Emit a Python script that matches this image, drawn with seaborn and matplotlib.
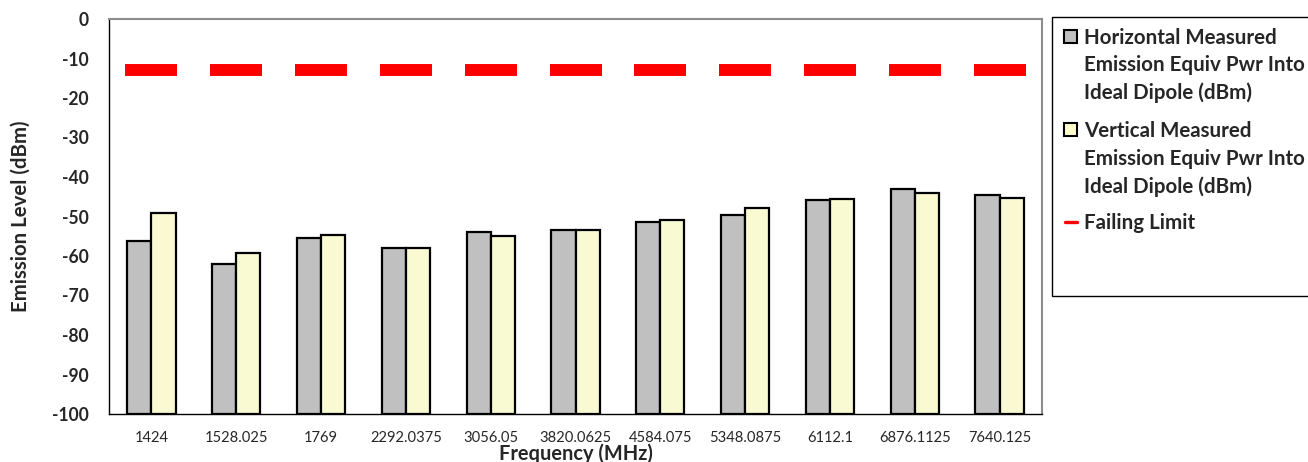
import matplotlib
matplotlib.use("Agg")
import matplotlib.pyplot as plt
import numpy as np
import pandas as pd
import seaborn as sns
from matplotlib.lines import Line2D
from matplotlib.patches import Rectangle

# values
frequencies = ["1424", "1528.025", "1769", "2292.0375", "3056.05", "3820.0625",
               "4584.075", "5348.0875", "6112.1", "6876.1125", "7640.125"]
horizontal = [-56.3, -61.9, -55.5, -58.0, -54.0, -53.3, -51.4, -49.6, -45.8, -43.0, -44.5]
vertical = [-49.0, -59.3, -54.8, -58.0, -54.9, -53.5, -50.9, -47.8, -45.6, -44.1, -45.2]
failing_limit = [-13, -13, -13, -13, -13, -13, -13, -13, -13, -13, -13]
y_ticks = [0, -10, -20, -30, -40, -50, -60, -70, -80, -90, -100]
axis_floor = -100

horiz_lines = ["Horizontal Measured", "Emission Equiv Pwr Into", "Ideal Dipole (dBm)"]
vert_lines = ["Vertical Measured", "Emission Equiv Pwr Into", "Ideal Dipole (dBm)"]
limit_name = "Failing Limit"

gray = "#C0C0C0"
yellow = "#FFFFCC"

sns.set_style("white")
plt.rcParams["font.family"] = ["Lato", "DejaVu Sans"]

df = pd.DataFrame({
    "freq": frequencies * 2,
    "series": ["Horizontal"] * len(frequencies) + ["Vertical"] * len(frequencies),
    "level": horizontal + vertical,
})
# Excel draws the bars up from the bottom of the value axis
df["height"] = df["level"] - axis_floor

W, H = 1308, 462
fig = plt.figure(figsize=(W / 100, H / 100), dpi=100)
ax = fig.add_axes([109 / W, 1 - 414 / H, (1042 - 109) / W, (414 - 19) / H])

sns.barplot(data=df, x="freq", y="height", hue="series", order=frequencies,
            palette=[gray, yellow], width=0.57, gap=0, errorbar=None,
            edgecolor="black", linewidth=1.6, bottom=axis_floor,
            legend=False, ax=ax)

sns.scatterplot(x=np.arange(len(frequencies)), y=failing_limit, marker="_",
                s=37.5 ** 2, linewidth=8.6, color="red", edgecolor="red",
                legend=False, ax=ax, zorder=3)

ax.set_ylim(axis_floor, 0)
ax.set_xlim(-0.5, len(frequencies) - 0.5)
ax.set_yticks(y_ticks)
ax.set_yticklabels([str(v) for v in y_ticks], fontsize=12, fontweight="bold")
ax.set_xticks(np.arange(len(frequencies)))
ax.set_xticklabels(frequencies, fontsize=10)
ax.set_xticks(np.arange(-0.5, len(frequencies)), minor=True)
ax.tick_params(axis="x", which="major", length=0, pad=12)
ax.tick_params(axis="x", which="minor", length=5, width=1, color="black", direction="out")
ax.tick_params(axis="y", length=4.5, width=1, color="black", direction="out", pad=10)

ax.set_ylabel("Emission Level (dBm)", fontsize=12, fontweight="bold", va="center")
ax.set_xlabel("Frequency (MHz)", fontsize=12, fontweight="bold", va="top")
ax.yaxis.set_label_coords((21 - 109) / 933, 0.5)
ax.xaxis.set_label_coords(0.5, (414 - 443) / 395)

for side in ["top", "right"]:
    ax.spines[side].set_color("#8c8c8c")
    ax.spines[side].set_linewidth(1.5)
for side in ["left", "bottom"]:
    ax.spines[side].set_color("black")
    ax.spines[side].set_linewidth(1)


def fx(px):
    return px / W


def fy(py):
    return 1 - py / H


# legend box drawn the Excel way: handle next to first line of each label
fig.add_artist(Rectangle((fx(1052), fy(296)), fx(1330) - fx(1052), fy(17) - fy(296),
                         transform=fig.transFigure, fill=False, edgecolor="black", lw=1))
legend_texts = []
for color, lines, centers in [(gray, horiz_lines, [37, 64, 92]),
                              (yellow, vert_lines, [130, 158, 186])]:
    fig.add_artist(Rectangle((fx(1064), fy(centers[0] + 6)), fx(13), 13 / H,
                             transform=fig.transFigure, facecolor=color,
                             edgecolor="black", lw=1.5))
    for line, c in zip(lines, centers):
        legend_texts.append(fig.text(fx(1084), fy(c + 1), line, fontsize=13,
                                     fontweight="bold", va="center"))
fig.add_artist(Line2D([fx(1065), fx(1077)], [fy(222), fy(222)], color="red", lw=2.4,
                      transform=fig.transFigure))
legend_texts.append(fig.text(fx(1084), fy(223), limit_name, fontsize=13,
                             fontweight="bold", va="center"))

# match text sizes to the widths measured on the reference
fig.canvas.draw()
r = fig.canvas.get_renderer()


def scale_for(artist, target, vertical=False):
    bb = artist.get_window_extent(r)
    return target / (bb.height if vertical else bb.width)


k = scale_for(ax.yaxis.label, 190, vertical=True)
ax.yaxis.label.set_fontsize(12 * k)
k = scale_for(ax.xaxis.label, 153)
ax.xaxis.label.set_fontsize(12 * k)
k = scale_for(legend_texts[1], 221)
for t in legend_texts:
    t.set_fontsize(13 * k)
ylab = [t for t in ax.get_yticklabels() if t.get_text() == "-100"][0]
k = scale_for(ylab, 37)
ax.tick_params(axis="y", labelsize=12 * k)
xlab = [t for t in ax.get_xticklabels() if t.get_text() == "3820.0625"][0]
k = scale_for(xlab, 72)
ax.tick_params(axis="x", which="major", labelsize=10 * k)

fig.savefig("out.png", dpi=100)
